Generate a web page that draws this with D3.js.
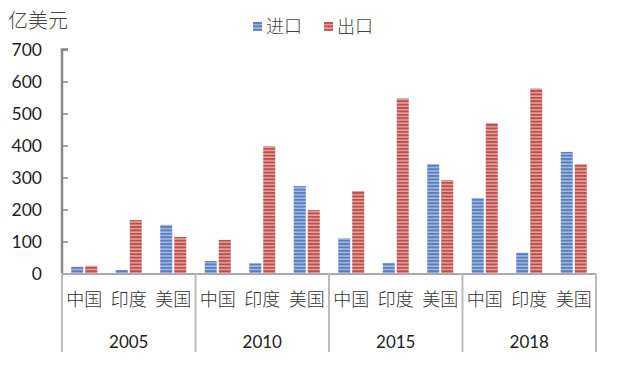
<!DOCTYPE html>
<html><head><meta charset="utf-8">
<script src="https://cdn.jsdelivr.net/npm/d3@7"></script>
<style>body{margin:0;background:#fff}</style>
</head><body>
<svg id="c" width="626" height="390"></svg>
<script>
const years = ["2005","2010","2015","2018"];
const countries = ["中国","印度","美国"];
const seriesNames = ["进口","出口"];
const imports = [21,11,152, 39,32,273, 110,33,342, 236,65,380];
const exports = [24,167,114, 105,398,198, 258,547,292, 470,578,342];
const yTicks = [0,100,200,300,400,500,600,700];

(function(){
const svg = d3.select("#c");
const left = 62, right = 596, topY = 49.5, zero = 273.5;
const cats = [];
years.forEach(y => countries.forEach(c => cats.push(y + "|" + c)));
const x = d3.scaleBand().domain(cats).range([left, right]);
const xg = d3.scaleBand().domain(years).range([left, right]);
const y = d3.scaleLinear().domain([0, 700]).range([zero, topY]);

const defs = svg.append("defs");
function pat(id, dark, light) {
  const p = defs.append("pattern").attr("id", id).attr("patternUnits", "userSpaceOnUse")
    .attr("width", 4).attr("height", 3.4);
  p.append("rect").attr("width", 4).attr("height", 3.4).attr("fill", dark);
  p.append("rect").attr("y", 0.2).attr("width", 4).attr("height", 1.5).attr("fill", light);
}
pat("pImp", "#5a7cba", "#a3bbe6");
pat("pExp", "#bb4f4c", "#e6a3a1");
const fills = ["url(#pImp)", "url(#pExp)"];

// y axis
const ya = d3.axisLeft(y).tickValues(yTicks).tickSize(-6).tickPadding(20).tickFormat(d3.format("d"));
const yG = svg.append("g").attr("transform", `translate(${left},0)`).call(ya);
yG.select(".domain").attr("stroke", "#888").attr("stroke-width", 2.5).attr("d", `M6,${topY}H0V${zero}`);
yG.selectAll(".tick line").attr("stroke", "#888").attr("stroke-width", 1.5);
yG.selectAll(".tick text").attr("font-family", "Lato, 'Open Sans', sans-serif").attr("font-size", 17.5)
  .attr("fill", "#1e1e1e").attr("x", -20);

// bars
const bw = 12, gap = 2;
const data = [];
cats.forEach((c, i) => {
  data.push({c, s: 0, v: imports[i]});
  data.push({c, s: 1, v: exports[i]});
});
svg.append("g").selectAll("rect").data(data).join("rect")
  .attr("x", d => x(d.c) + x.bandwidth() / 2 - bw - gap / 2 + d.s * (bw + gap))
  .attr("width", bw)
  .attr("y", d => y(d.v))
  .attr("height", d => zero - y(d.v))
  .attr("fill", d => fills[d.s]);

// x axis lines
svg.append("line").attr("x1", left).attr("x2", right).attr("y1", zero + 0.5).attr("y2", zero + 0.5)
  .attr("stroke", "#aaa").attr("stroke-width", 2);
const bounds = years.map(yy => xg(yy)).concat([right]);
svg.append("g").selectAll("line").data(bounds).join("line")
  .attr("x1", d => d).attr("x2", d => d).attr("y1", zero).attr("y2", 352)
  .attr("stroke", "#bbb").attr("stroke-width", 2);

// category labels
svg.append("g").selectAll("text").data(cats).join("text")
  .attr("x", d => x(d) + x.bandwidth() / 2).attr("y", 306)
  .attr("text-anchor", "middle").attr("font-family", "'Noto Sans CJK SC', sans-serif")
  .attr("font-size", 18).attr("font-weight", 300).attr("fill", "#333").text(d => d.split("|")[1]);
// year labels
svg.append("g").selectAll("text").data(years).join("text")
  .attr("x", d => xg(d) + xg.bandwidth() / 2).attr("y", 348)
  .attr("text-anchor", "middle").attr("font-family", "Lato, 'Open Sans', sans-serif")
  .attr("font-size", 17).attr("fill", "#222").text(d => d);

// unit
svg.append("text").attr("x", 8).attr("y", 28).attr("font-family", "'Noto Sans CJK SC', sans-serif")
  .attr("font-size", 20).attr("font-weight", 300).attr("fill", "#444").text("亿美元");

// legend
const lg = svg.append("g");
const lx = [253, 324];
seriesNames.forEach((n, i) => {
  lg.append("rect").attr("x", lx[i]).attr("y", 22).attr("width", 9).attr("height", 9).attr("fill", fills[i]);
  lg.append("text").attr("x", lx[i] + 13).attr("y", 33).attr("font-family", "'Noto Sans CJK SC', sans-serif")
    .attr("font-size", 18).attr("font-weight", 300).attr("fill", "#444").text(n);
});
})();
</script>
</body></html>
